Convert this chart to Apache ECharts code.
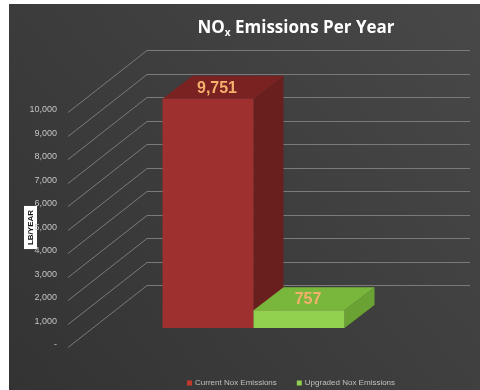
<!DOCTYPE html>
<html>
<head>
<meta charset="utf-8">
<script src="https://cdn.jsdelivr.net/npm/echarts@6/dist/echarts.min.js"></script>
<style>
html,body{margin:0;padding:0;background:#ffffff;}
#main{width:480px;height:390px;}
</style>
</head>
<body>
<div id="main"></div>
<script>
// ---- data ----
var categories = [''];
var seriesNames = ['Current Nox Emissions', 'Upgraded Nox Emissions'];
var currentValues = [9751];
var upgradedValues = [757];
var yTicks = [0, 1000, 2000, 3000, 4000, 5000, 6000, 7000, 8000, 9000, 10000];

// ---- style ----
var WALL_DX = 79, WALL_DY = -60;    // front plane -> back wall
var BAR_FX = 24, BAR_FY = -17;      // front plane -> bar front face
var BAR_DX = 30, BAR_DY = -23;      // bar depth
var BAR_W = 91;
var palette = [
  {front: '#9e3030', top: '#7a2222', side: '#6a1f1f'},
  {front: '#92d050', top: '#79b63c', side: '#6aa333'}
];

var chart = echarts.init(document.getElementById('main'), null, {renderer: 'canvas'});

function barRender(idx) {
  return function (params, api) {
    var base = api.coord([api.value(0), 0]);
    var top = api.coord([api.value(0), api.value(1)]);
    var center = base[0];
    var x0 = (idx === 0 ? center - BAR_W : center) + BAR_FX;
    var x1 = x0 + BAR_W;
    var yt = top[1] + BAR_FY;
    var yb = base[1] + BAR_FY;
    var c = palette[idx];
    return {
      type: 'group',
      children: [
        {type: 'polygon', shape: {points: [[x1, yt], [x1 + BAR_DX, yt + BAR_DY], [x1 + BAR_DX, yb + BAR_DY], [x1, yb]]}, style: {fill: c.side}},
        {type: 'polygon', shape: {points: [[x0, yt], [x1, yt], [x1 + BAR_DX, yt + BAR_DY], [x0 + BAR_DX, yt + BAR_DY]]}, style: {fill: c.top}},
        {type: 'polygon', shape: {points: [[x0, yt], [x1, yt], [x1, yb], [x0, yb]]}, style: {fill: c.front}},
        {type: 'text', x: (x0 + x1) / 2 + BAR_DX / 2 - 6, y: yt + BAR_DY / 2 + 1,
          style: {text: echarts.format.addCommas(api.value(1)), fill: '#f5b06e', font: 'bold 16px "Liberation Sans", Arial, sans-serif', align: 'center', verticalAlign: 'middle'}}
      ]
    };
  };
}

var option = {
  backgroundColor: 'transparent',
  animation: false,
  graphic: [{
    type: 'rect', z: -100, zlevel: 0, silent: true,
    shape: {x: 9, y: 4, width: 471, height: 386},
    style: {fill: new echarts.graphic.LinearGradient(1, 0, 0, 1, [
      {offset: 0, color: '#484848'}, {offset: 1, color: '#333333'}
    ])}
  }],
  title: {
    text: '{a|NO}{s|x}{a| Emissions Per Year}',
    left: 291, top: 14, textAlign: 'center',
    textStyle: {
      rich: {
        a: {color: '#ffffff', fontSize: 17, fontWeight: 'bold', fontFamily: '"Open Sans", sans-serif'},
        s: {color: '#ffffff', fontSize: 10, fontWeight: 'bold', fontFamily: '"Open Sans", sans-serif', verticalAlign: 'bottom', padding: [9, 0, 0, 0]}
      }
    }
  },
  legend: {
    data: seriesNames,
    left: 182, top: 374,
    icon: 'rect', itemWidth: 5, itemHeight: 5, itemGap: 20,
    textStyle: {color: '#c0c0c0', fontSize: 8, fontFamily: '"Liberation Sans", sans-serif', padding: [0, 0, 0, -2]}
  },
  grid: {left: 68, right: 89, top: 110, bottom: 45},
  xAxis: {
    type: 'category', data: categories,
    axisLine: {show: false}, axisTick: {show: false}, axisLabel: {show: false}, splitLine: {show: false}
  },
  yAxis: {
    type: 'value', min: 0, max: 10000, interval: 1000,
    axisLine: {show: false}, axisTick: {show: false}, splitLine: {show: false},
    axisLabel: {
      color: '#c4c4c4', fontSize: 9, margin: 11, fontFamily: '"Liberation Sans", sans-serif',
      formatter: function (v) { return v === 0 ? '-' : echarts.format.addCommas(v); }
    },
    name: 'LB/YEAR', nameLocation: 'middle', nameGap: 31, nameRotate: 90, nameMoveOverlap: false,
    nameTextStyle: {color: '#111111', fontSize: 8, fontWeight: 'bold', backgroundColor: '#ffffff', padding: [3, 4, 2, 4], fontFamily: '"Liberation Sans", sans-serif'}
  },
  series: [
    {
      type: 'custom', name: 'grid', silent: true, z: 1,
      data: yTicks.map(function (v) { return [0, v]; }),
      renderItem: function (params, api) {
        var cs = params.coordSys;
        var p = api.coord([0, api.value(1)]);
        var y = Math.round(p[1]) + 0.5;
        return {
          type: 'polyline',
          shape: {points: [[cs.x, y + 2], [cs.x + WALL_DX, y + WALL_DY], [cs.x + cs.width + WALL_DX, y + WALL_DY]]},
          style: {stroke: '#7a7a7a', lineWidth: 1, fill: null}
        };
      }
    },
    {
      type: 'custom', name: seriesNames[0], z: 3,
      itemStyle: {color: '#c0392b'},
      data: currentValues.map(function (v, i) { return [i, v]; }),
      renderItem: barRender(0)
    },
    {
      type: 'custom', name: seriesNames[1], z: 4,
      itemStyle: {color: '#92d050'},
      data: upgradedValues.map(function (v, i) { return [i, v]; }),
      renderItem: barRender(1)
    }
  ]
};
chart.setOption(option);
</script>
</body>
</html>
